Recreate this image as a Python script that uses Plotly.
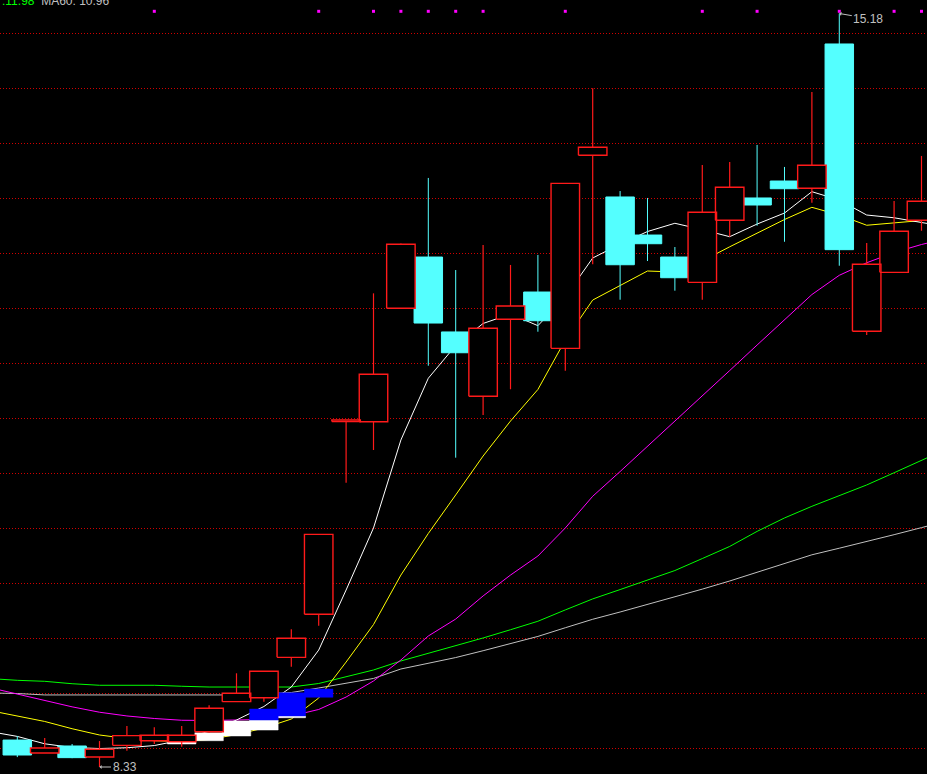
import plotly.graph_objects as go

# ---------------- data ----------------
bar_idx = list(range(34))
open_ = [8.575, 8.457, 8.521, 8.421, 8.527, 8.569, 8.560, 8.651, 8.924, 8.960,
         9.327, 9.718, 11.470, 11.469, 12.500, 12.966, 12.285, 11.700, 12.400, 12.648,
         12.136, 13.891, 13.512, 13.166, 12.966, 12.736, 13.300, 13.503, 13.657, 13.591,
         14.903, 12.291, 12.827, 13.300]
high = [8.612, 8.594, 8.539, 8.566, 8.703, 8.691, 8.703, 8.891, 9.182, 9.200,
        9.582, 10.445, 11.485, 12.636, 13.090, 13.685, 12.848, 13.075, 12.894, 12.985,
        13.636, 14.500, 13.566, 13.503, 13.057, 13.803, 13.830, 13.985, 13.785, 14.466,
        15.180, 13.094, 13.475, 13.885]
low = [8.420, 8.457, 8.410, 8.330, 8.478, 8.539, 8.515, 8.642, 8.924, 8.924,
       9.242, 9.614, 10.915, 11.212, 12.500, 11.978, 11.142, 11.530, 11.764, 12.287,
       11.933, 12.900, 12.578, 12.930, 12.660, 12.578, 13.151, 13.251, 13.105, 13.460,
       12.887, 12.257, 12.827, 13.205]
close = [8.439, 8.503, 8.415, 8.491, 8.615, 8.618, 8.618, 8.864, 9.000, 9.200,
         9.500, 10.445, 11.485, 11.900, 13.082, 12.366, 12.096, 12.318, 12.521, 12.387,
         13.636, 13.964, 12.896, 13.087, 12.778, 13.373, 13.600, 13.439, 13.587, 13.800,
         13.033, 12.900, 13.200, 13.473]

ma_idx = list(range(-1, 35))
ma5 = [8.652, 8.608, 8.541, 8.507, 8.498, 8.505, 8.525, 8.575, 8.657, 8.757,
       8.880, 9.057, 9.393, 9.939, 10.503, 11.303, 11.864, 12.162, 12.362, 12.448,
       12.342, 12.603, 12.957, 13.084, 13.198, 13.273, 13.215, 13.151, 13.266, 13.366,
       13.560, 13.484, 13.348, 13.323, 13.280, 13.239]
ma10 = [8.843, 8.795, 8.744, 8.678, 8.621, 8.589, 8.569, 8.562, 8.580, 8.625,
        8.684, 8.766, 8.957, 9.284, 9.625, 10.075, 10.453, 10.803, 11.157, 11.475,
        11.762, 12.212, 12.575, 12.707, 12.839, 12.830, 12.930, 13.059, 13.180, 13.307,
        13.418, 13.348, 13.255, 13.277, 13.298, 13.312]
ma20 = [9.051, 8.994, 8.935, 8.877, 8.828, 8.794, 8.771, 8.755, 8.753, 8.755,
        8.762, 8.794, 8.853, 8.966, 9.112, 9.303, 9.521, 9.675, 9.885, 10.075,
        10.248, 10.503, 10.791, 11.016, 11.244, 11.470, 11.703, 11.934, 12.166, 12.397,
        12.625, 12.800, 12.914, 13.007, 13.080, 13.139]
ma30 = [9.134, 9.118, 9.109, 9.087, 9.073, 9.073, 9.073, 9.064, 9.057, 9.057,
        9.057, 9.057, 9.089, 9.148, 9.212, 9.294, 9.364, 9.430, 9.503, 9.578,
        9.655, 9.758, 9.858, 9.943, 10.030, 10.116, 10.225, 10.335, 10.472, 10.594,
        10.700, 10.797, 10.894, 11.005, 11.117, 11.230]
ma60 = [9.003, 8.998, 8.985, 8.985, 8.985, 8.985, 8.985, 8.985, 8.985, 8.985,
        8.994, 9.007, 9.048, 9.089, 9.135, 9.221, 9.272, 9.325, 9.387, 9.452,
        9.517, 9.596, 9.673, 9.739, 9.807, 9.873, 9.947, 10.021, 10.102, 10.183,
        10.259, 10.319, 10.378, 10.442, 10.506, 10.571]

white_idx = [6, 7, 8, 9, 10]
white_lo = [8.539, 8.569, 8.612, 8.666, 8.778]
white_hi = [8.560, 8.642, 8.748, 8.757, 8.794]
blue_idx = [9, 10, 11]
blue_lo = [8.757, 8.794, 8.964]
blue_hi = [8.857, 9.005, 9.039]

signal_idx = [5, 11, 13, 14, 15, 16, 17, 20, 25, 27, 30, 32, 33]
signal_level = 15.20

grid_levels = [8.5, 9.0, 9.5, 10.0, 10.5, 11.0, 11.5, 12.0, 12.5, 13.0, 13.5, 14.0, 14.5, 15.0]

hi_label = "15.18"
lo_label = "8.33"
hi_pos = 30
lo_pos = 3
header_ma30 = ":11.98"
header_ma60 = "MA60: 10.96"

# ---------------- styling ----------------
RED = "#ff1a1a"
CYAN = "#54ffff"
HW = 0.52  # half body width in bar units


def rect_path(xs, lo, hi):
    px, py = [], []
    for x, a, b in zip(xs, lo, hi):
        px += [x - HW, x + HW, x + HW, x - HW, x - HW, None]
        py += [a, a, b, b, a, None]
    return px, py


fig = go.Figure()

for vals, col in [(ma60, "#c0c0c0"), (ma30, "#00ff00"), (ma20, "#ff00ff"),
                  (ma10, "#ffff00"), (ma5, "#ffffff")]:
    fig.add_trace(go.Scatter(x=ma_idx, y=vals, mode="lines",
                             line=dict(color=col, width=1), hoverinfo="skip"))

# white / blue sticks
for xs, lo, hi, col in [(white_idx, white_lo, white_hi, "#ffffff"),
                        (blue_idx, blue_lo, blue_hi, "#0000ff")]:
    px, py = rect_path(xs, lo, hi)
    fig.add_trace(go.Scatter(x=px, y=py, mode="lines", fill="toself",
                             fillcolor=col, line=dict(color=col, width=0.5),
                             hoverinfo="skip"))

up = [i for i in bar_idx if close[i] >= open_[i]]
dn = [i for i in bar_idx if close[i] < open_[i]]

# down candles (solid cyan)
wx, wy = [], []
for i in dn:
    wx += [i, i, None]
    wy += [low[i], high[i], None]
fig.add_trace(go.Scatter(x=wx, y=wy, mode="lines", line=dict(color=CYAN, width=1),
                         hoverinfo="skip"))
px, py = rect_path(dn, [close[i] for i in dn], [open_[i] for i in dn])
fig.add_trace(go.Scatter(x=px, y=py, mode="lines", fill="toself", fillcolor=CYAN,
                         line=dict(color=CYAN, width=1), hoverinfo="skip"))

# up candles (hollow red)
wx, wy = [], []
for i in up:
    top = max(open_[i], close[i])
    bot = min(open_[i], close[i])
    if high[i] > top:
        wx += [i, i, None]
        wy += [top, high[i], None]
    if low[i] < bot:
        wx += [i, i, None]
        wy += [low[i], bot, None]
fig.add_trace(go.Scatter(x=wx, y=wy, mode="lines", line=dict(color=RED, width=1.2),
                         hoverinfo="skip"))
px, py = rect_path(up, [open_[i] for i in up], [close[i] for i in up])
fig.add_trace(go.Scatter(x=px, y=py, mode="lines", fill="toself", fillcolor="#000000",
                         line=dict(color=RED, width=1.4), hoverinfo="skip"))

# signal dots
fig.add_trace(go.Scatter(x=signal_idx, y=[signal_level] * len(signal_idx), mode="markers",
                         marker=dict(symbol="square", size=3, color="#ff00ff",
                                     line=dict(width=0)), hoverinfo="skip"))

fig.add_annotation(x=hi_pos, y=high[hi_pos], xref="x", yref="y", text=hi_label,
                   showarrow=True, ax=29, ay=5, arrowhead=1, arrowsize=0.7, arrowwidth=1,
                   arrowcolor="#c0c0c0", font=dict(color="#c0c0c0", size=12,
                                                   family="Liberation Sans, Arial"))
fig.add_annotation(x=lo_pos, y=low[lo_pos], xref="x", yref="y", text=lo_label,
                   showarrow=True, ax=25, ay=0, arrowhead=1, arrowsize=0.7, arrowwidth=1,
                   arrowcolor="#c0c0c0", font=dict(color="#c0c0c0", size=12,
                                                   family="Liberation Sans, Arial"))
fig.add_annotation(x=0, y=1 - 1.0 / 774, xref="paper", yref="paper", xanchor="left",
                   yanchor="middle", showarrow=False,
                   text=f"<span style='color:#00ff00'>{header_ma30}</span>  "
                        f"<span style='color:#c0c0c0'>{header_ma60}</span>",
                   font=dict(size=12, family="Liberation Sans, Arial"))

fig.update_layout(
    width=927, height=774,
    margin=dict(l=0, r=0, t=0, b=0, pad=0),
    paper_bgcolor="#000000", plot_bgcolor="#000000",
    showlegend=False, hovermode=False,
    xaxis=dict(range=[-0.6314, 33.201], showgrid=False, zeroline=False,
               showticklabels=False, ticks="", showline=False, fixedrange=True),
    yaxis=dict(range=[8.2664, 15.3027], tickmode="array", tickvals=grid_levels,
               showgrid=True, gridcolor="#d00000", gridwidth=1, griddash="1px,2px",
               zeroline=False, showticklabels=False, ticks="", showline=False,
               fixedrange=True),
)

fig.write_html("out.html", config={"displayModeBar": False},
               post_script="document.body.style.margin='0px';"
                           "document.body.style.background='#000';")
